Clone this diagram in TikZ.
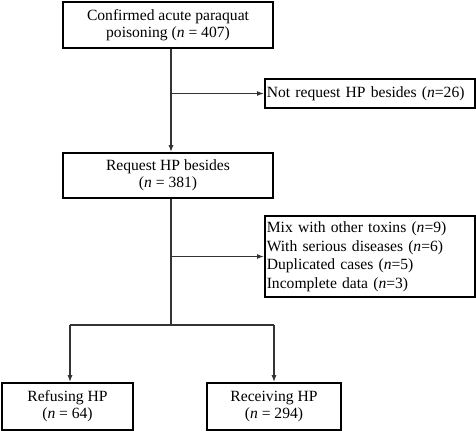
\documentclass[tikz,border=0pt]{standalone}
\usepackage{fontspec}
\usetikzlibrary{arrows.meta}
\setmainfont{Liberation Serif}
\newcommand{\nn}{\textit{n}}
\begin{document}
\begin{tikzpicture}[
  x=1pt, y=-1pt, >={Latex[length=7pt, width=5pt]}, font=\fontsize{15.6}{17}\selectfont,
  box/.style={draw=black, line width=1.6pt, align=center, inner sep=2pt},
  side/.style={draw=black, line width=1.6pt, align=left, inner sep=2pt,
    anchor=west, text width=206pt, font=\fontsize{15.6}{18.5}\selectfont},
  flow/.style={->, line width=1.3pt, black!80},
  trunk/.style={line width=1.3pt, black!80}
]
  \useasboundingbox (0,0) rectangle (476,431);

  %% ============================================ the main column
  \node[box, minimum width=210pt, minimum height=46pt] (conf) at (168,25)
    {Confirmed acute paraquat\\poisoning (\nn\ = 407)};
  \node[box, minimum width=210pt, minimum height=45pt] (req) at (168,175.5)
    {Request HP besides\\(\nn\ = 381)};

  %% -------------------------------------------------- the exclusions
  \node[side, minimum height=29pt] (notreq) at (264,93.5)
    {Not request HP besides (\nn=26)};
  \node[side, minimum height=81pt] (excl) at (264,256.5)
    {Mix with other toxins (\nn=9)\\With serious diseases (\nn=6)\\
     Duplicated cases (\nn=5)\\Incomplete data (\nn=3)};

  %% ------------------------------------------------------ the outcomes
  \node[box, minimum width=131pt, minimum height=47pt] (refuse) at (67.5,406.5)
    {Refusing HP\\(\nn\ = 64)};
  \node[box, minimum width=134pt, minimum height=47pt] (receive) at (274,406.5)
    {Receiving HP\\(\nn\ = 294)};

  %% ======================================================= connectors
  % the trunk runs a little right of the box centres
  \draw[flow] ([xshift=3pt]conf.south) -- ([xshift=3pt]req.north);
  \draw[flow] ([xshift=3pt]conf.south |- notreq.west) -- (notreq.west);

  \coordinate (split) at (171,325);
  \draw[trunk] ([xshift=3pt]req.south) -- (split);
  \draw[flow] ([xshift=3pt]req.south |- excl.west) -- (excl.west);
  \draw[trunk] ([xshift=2.5pt]split -| refuse.north) -- (split -| receive.north);
  \draw[flow] ([xshift=2.5pt]split -| refuse.north) -- ([xshift=2.5pt]refuse.north);
  \draw[flow] (split -| receive.north) -- (receive.north);
\end{tikzpicture}
\end{document}
